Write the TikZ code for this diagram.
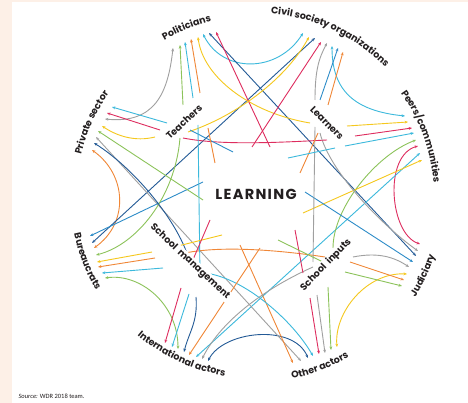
\documentclass[tikz,border=0pt]{standalone}
\usepackage{fontspec}
\setmainfont{Poppins}
\newfontfamily\notefont{Carlito}
\usetikzlibrary{arrows.meta,decorations.text}

\definecolor{peach}{RGB}{253,240,231}
\definecolor{ink}{RGB}{35,31,32}
\definecolor{ruby}{RGB}{222,45,95}
\definecolor{sky}{RGB}{60,185,220}
\definecolor{azure}{RGB}{45,140,200}
\definecolor{navy}{RGB}{35,90,150}
\definecolor{leaf}{RGB}{140,195,90}
\definecolor{gold}{RGB}{245,200,30}
\definecolor{tang}{RGB}{240,135,55}
\definecolor{ash}{RGB}{160,160,160}

\newcommand\ringfont{\fontsize{9.5}{11}\selectfont\bfseries}
% outer labels, written along the ring
\newcommand\toplabel[3]{%
  \path[decorate,decoration={text along path,text align=center,text={|\ringfont\color{ink}|#3}}]
    ([shift={(#1-45:#2)}]ctr) arc[start angle=#1-45,end angle=#1+45,radius=#2];}
\newcommand\botlabel[3]{%
  \path[decorate,decoration={text along path,text align=center,text={|\ringfont\color{ink}|#3}}]
    ([shift={(#1+45:#2)}]ctr) arc[start angle=#1+45,end angle=#1-45,radius=#2];}

\tikzset{
  link/.style={line width=0.9pt,-{Stealth[length=3.4pt,width=2.8pt]}},
  twoway/.style={line width=0.9pt,{Stealth[length=3.4pt,width=2.8pt]}-{Stealth[length=3.4pt,width=2.8pt]}},
  tie/.style={line width=0.9pt},
  actor/.style={font=\ringfont,text=ink,fill=white,inner sep=1pt}
}

\begin{document}
\begin{tikzpicture}[x=1pt,y=-1pt]
  \fill[peach] (0,0) rectangle (468,403);
  \fill[white] (12,2) rectangle (468,403);
  \useasboundingbox (0,0) rectangle (468,403);
  \coordinate (ctr) at (255,197);

  % arrow ends at the outer actors
  \foreach \n/\x/\y in {pol1/173/48,pol2/180/45,pol3/185/42,pol4/191/39,pol5/198/37,pol6/203/34,pol7/209/33,pol8/216/32,
      civ1/303/33,civ2/309/37,civ3/315/38,civ4/321/42,civ5/327/43,civ6/332/46,civ7/338/48,civ8/343/52,
      pee1/405/116,pee2/408/122,pee3/412/128,pee4/414/133,pee5/416/140,pee6/418/146,pee7/420/153,pee8/422/160,
      jud1/420/244,jud2/418/251,jud3/416/256,jud4/413/262,jud5/409/267,jud6/407/274,jud7/404/280,jud8/402/286,
      oth1/293/363,oth2/301/361,oth3/308/358,oth4/313/356,oth5/319/354,oth6/325/353,oth7/331/350,oth8/337/347,
      int1/165/343,int2/172/347,int3/178/349,int4/184/352,int5/189/355,int6/196/357,int7/202/359,int8/208/361,
      bur1/90/236,bur2/92/243,bur3/94/248,bur4/96/255,bur5/97/262,bur6/98/267,bur7/102/273,bur8/105/278,
      pri1/112/107,pri2/107/113,pri3/105/119,pri4/102/126,pri5/98/131,pri6/96/137,pri7/94/143,pri8/92/150}
    \coordinate (\n) at (\x,\y);
  % tails round the inner actors and the centre
  \foreach \n/\x/\y in {tea1/183/105,tea2/193/98,tea3/200/93,tea4/188/132,tea5/180/138,tea6/167/123,
      tea7/160/130,tea8/155/137,tea9/183/138,tea10/190/130,tea11/198/125,tea12/208/128,
      lea1/310/123,lea2/315/100,lea3/320/100,lea4/328/105,lea5/347/126,lea6/355/136,
      lea7/345/146,lea8/320/133,lea9/327/140,lea10/315/127,lea11/318/133,lea12/335/148,
      man1/185/253,man2/181/288,man3/189/294,man4/196/297,man6/205/273,man7/152/252,
      man8/155/258,man9/163/268,man10/190/263,man11/200/275,man12/178/246,man13/192/262,
      inp1/333/248,inp2/353/257,inp3/350/262,inp4/345/272,inp5/310/298,inp6/317/295,
      inp7/328/287,inp8/313/267,inp9/325/257,inp10/313/262,inp11/303/273,inp12/325/263,
      mid1/270/147,mid2/252/147,mid3/303/213,mid4/305/192,mid5/240/245,mid6/203/182,mid7/203/200,
      mid8/233/152,mid9/215/163,mid10/300/173,mid11/288/158,mid12/222/235,mid13/210/220,
      mid14/295/230,mid15/278/240,mid16/260/248}
    \coordinate (\n) at (\x,\y);

  % outer actor to outer actor
  \draw[twoway,sky] (pol6) .. controls +(20,40) and +(-25,40) .. (civ1);
  \draw[twoway,sky] (civ6) .. controls +(0,45) and +(-50,-5) .. (pee1);
  \draw[twoway,ruby] (pee6) .. controls +(-35,10) and +(-30,-10) .. (jud1);
  \draw[twoway,gold] (jud6) .. controls +(-40,-2) and +(-3,-35) .. (oth8);
  \draw[twoway,navy] (oth3) .. controls +(-15,-35) and +(15,-30) .. (int8);
  \draw[twoway,leaf] (int3) .. controls +(0,-45) and +(35,-5) .. (bur8);
  \draw[twoway,tang] (bur3) .. controls +(35,-25) and +(35,25) .. (pri8);
  \draw[twoway,ash] (pri3) .. controls +(50,5) and +(-5,45) .. (pol1);
  \draw[twoway,navy] (pol7) -- (jud3);
  \draw[twoway,navy] (civ3) -- (bur2);
  \draw[twoway,sky] (pee7) -- (int6);
  \draw[twoway,ash] (pri6) -- (oth2);

  % politicians
  \draw[link,leaf] (tea1) -- (pol2);
  \draw[link,sky] (tea2) -- (pol3);
  \draw[link,tang] (tea3) -- (pol4);
  \draw[link,gold] (lea1) .. controls +(-60,-10) and +(5,40) .. (pol5);
  \draw[link,ruby] (mid1) -- (pol8);
  % civil society
  \draw[link,gold] (tea4) .. controls +(45,-15) and +(-25,45) .. (civ2);
  \draw[link,ruby] (mid2) -- (civ4);
  \draw[link,ash] (lea2) .. controls +(0,-30) and +(-8,15) .. (civ5);
  \draw[link,azure] (lea3) -- (civ7);
  \draw[link,tang] (lea4) -- (civ8);
  % peers
  \draw[link,gold] (lea5) -- (pee2);
  \draw[link,ruby] (lea6) -- (pee3);
  \draw[link,sky] (lea7) -- (pee4);
  \draw[link,leaf] (inp1) .. controls +(0,-40) and +(-40,15) .. (pee5);
  \draw[link,gold] (mid3) -- (pee8);
  % judiciary
  \draw[link,ash] (lea8) .. controls +(10,40) and +(-35,-25) .. (jud2);
  \draw[link,azure] (mid4) -- (jud4);
  \draw[link,ash] (inp2) .. controls +(25,-5) and +(-15,-10) .. (jud5);
  \draw[link,tang] (inp3) -- (jud7);
  \draw[link,leaf] (inp4) -- (jud8);
  % other actors
  \draw[link,tang] (mid5) -- (oth1);
  \draw[link,sky] (man6) .. controls +(40,5) and +(-20,-35) .. (oth4);
  \draw[link,ruby] (inp5) -- (oth5);
  \draw[link,ash] (inp6) -- (oth6);
  \draw[link,leaf] (inp7) -- (oth7);
  % international actors
  \draw[link,ruby] (man2) -- (int1);
  \draw[link,sky] (man3) -- (int2);
  \draw[link,navy] (man4) .. controls +(2,25) and +(5,-20) .. (int4);
  \draw[link,tang] (mid16) -- (int5);
  \draw[link,ash] (inp8) .. controls +(-45,20) and +(20,-40) .. (int7);
  % bureaucrats
  \draw[link,azure] (mid6) -- (bur1);
  \draw[link,leaf] (tea5) .. controls +(-5,60) and +(40,-10) .. (bur4);
  \draw[link,gold] (man7) -- (bur5);
  \draw[link,tang] (man8) -- (bur6);
  \draw[link,sky] (man9) -- (bur7);
  % private sector
  \draw[link,sky] (tea6) -- (pri1);
  \draw[link,ruby] (tea7) -- (pri2);
  \draw[link,gold] (tea8) .. controls +(-20,5) and +(15,10) .. (pri4);
  \draw[link,leaf] (mid7) -- (pri5);
  \draw[link,navy] (man10) .. controls +(-10,-40) and +(40,25) .. (pri7);

  % between the inner actors
  \draw[tie,ruby] (tea9) .. controls +(40,8) and +(-40,2) .. (lea9);
  \draw[tie,tang] (man1) .. controls +(40,-8) and +(-40,-6) .. (inp9);
  \draw[tie,azure] (tea10) -- (mid8);
  \draw[tie,sky] (tea11) -- (man11);
  \draw[tie,tang] (tea12) -- (mid9);
  \draw[tie,ash] (lea10) -- (inp10);
  \draw[tie,tang] (mid10) -- (lea11);
  \draw[tie,sky] (mid11) -- (lea12);
  \draw[tie,gold] (man12) -- (mid12);
  \draw[tie,ruby] (man13) -- (mid13);
  \draw[tie,ruby] (mid14) -- (inp11);
  \draw[tie,leaf] (mid15) -- (inp12);

  % labels
  \node[font=\fontsize{14.5}{16}\selectfont\bfseries\addfontfeature{LetterSpace=9},text=ink] (learning) at (256,194) {LEARNING};
  \node[actor,rotate=43] (teachers) at (184,122) {Teachers};
  \node[actor,rotate=-45] (learners) at (327,123) {Learners};
  \node[actor,rotate=-43] (management) at (190,262) {School\hspace{2pt} management};
  \node[actor,rotate=46] (inputs) at (326,265) {School\hspace{2pt} inputs};

  \toplabel{-112}{181}{Politicians}
  \toplabel{-65}{184}{Civil society organizations}
  \toplabel{-20}{179}{Peers/communities}
  \toplabel{-155.5}{179}{Private sector}
  \botlabel{25}{189}{Judiciary}
  \botlabel{69}{185.5}{Other actors}
  \botlabel{115}{181.5}{International actors}
  \botlabel{159}{184.5}{Bureaucrats}

  \node[anchor=west,font=\notefont\fontsize{6.5}{7}\selectfont,text=ink] (source) at (15,396)
    {\textit{Source:} WDR 2018 team.};
\end{tikzpicture}
\end{document}
